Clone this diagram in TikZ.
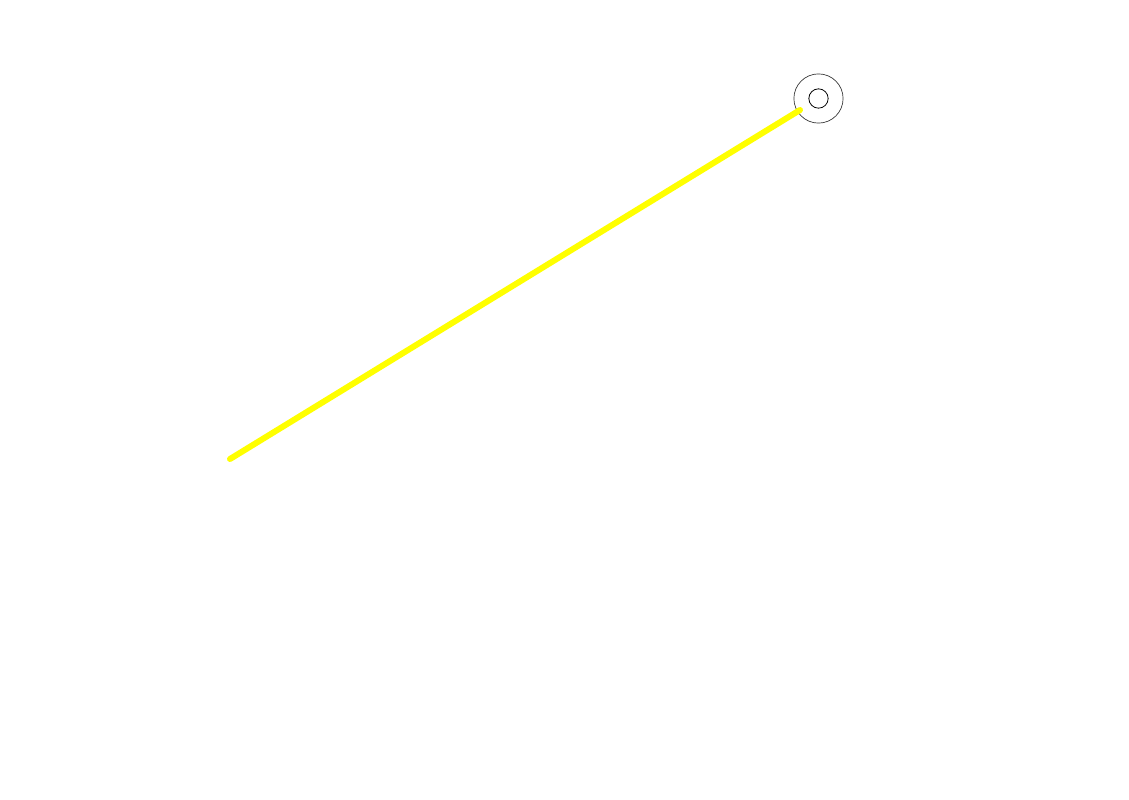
\documentclass[tikz,border=0pt]{standalone}
\begin{document}
\begin{tikzpicture}[x=0.75pt,y=-0.75pt,
  outerring/.style={circle,draw=black!80,line width=0.5pt,minimum size=36.9pt,inner sep=0pt},
  innerring/.style={circle,draw=black,line width=0.6pt,minimum size=14.5pt,inner sep=0pt},
  beam/.style={draw={rgb,255:red,255;green,255;blue,0},line width=4.5pt,line cap=round}]
\useasboundingbox (0,0) rectangle (1129,800);
\fill[white] (0,0) rectangle (1129,800);
\node[outerring] (outer) at (818.5,98.5) {};
\node[innerring] (inner) at (818.5,98.5) {};
\coordinate (start) at (230,459);
\coordinate (stop) at (800,110);
\draw[beam] (start) -- (stop);
\end{tikzpicture}
\end{document}
